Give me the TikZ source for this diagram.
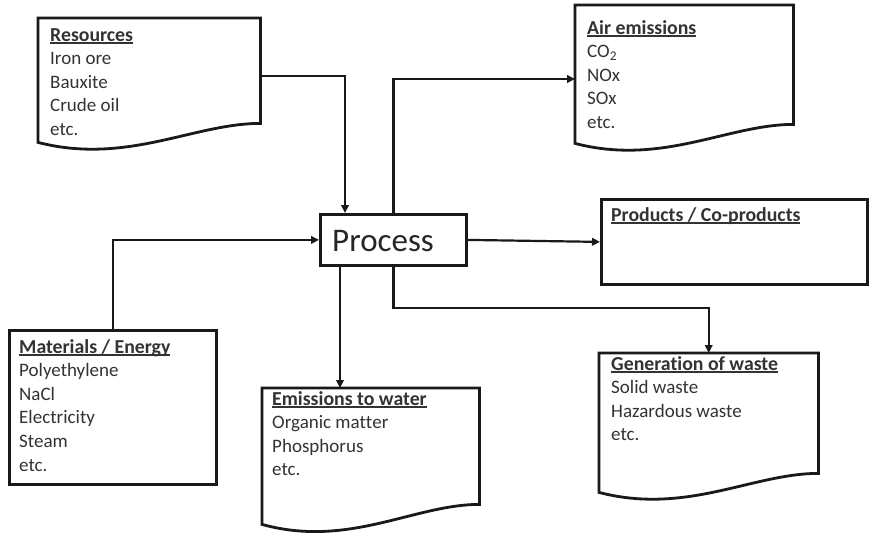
\documentclass[tikz,border=0pt]{standalone}
\usepackage{fontspec}
\setmainfont{Carlito}[Ligatures=NoCommon]
\usetikzlibrary{arrows.meta,calc}

% bold heading with an underline at a fixed depth below the baseline
\newcommand\boxtitle[1]{\setbox0\hbox{\fontsize{19.8}{23.6}\selectfont\bfseries #1}\rlap{\rule[-3pt]{\wd0}{1.6pt}}\box0}
% zero kern that keeps two letters apart
\newcommand\sep{\kern0pt\relax}

\tikzset{
  boxframe/.style={rectangle, inner sep=0pt, anchor=north west},
  boxline/.style={line width=2.8pt, draw=black!90, line join=miter},
  arrowline/.style={line width=2.2pt, draw=black!90, -{Triangle[length=8pt,width=7.5pt]}},
  boxtext/.style={anchor=base west, inner sep=0pt, text=black!80,
                  font=\fontsize{19}{23.6}\selectfont},
}

% document-like outline with a wavy bottom edge: node name, width, extra drop on the left
\newcommand\docframe[3]{%
  \draw[boxline] (#1.south east) -- (#1.north east) -- (#1.north west)
    -- ($(#1.south west)+(0,#3)$)
    .. controls +(0.4*#2,1.2*#3) and +(-0.3*#2,0) .. (#1.south east) -- cycle;}

\begin{document}
\begin{tikzpicture}[x=1pt,y=-1pt]
  \fill[white] (0,0) rectangle (870,536);
  \useasboundingbox (0,0) rectangle (870,536);

  % central process
  \node[boxframe, draw, boxline, minimum width=146pt, minimum height=51pt] (proc) at (319,213) {};
  \node[anchor=base west, inner sep=0pt, text=black!85, font=\fontsize{33}{40}\selectfont] (proctext) at (332,251) {Process};

  % inputs and outputs
  \node[boxframe, minimum width=222pt, minimum height=105pt] (res) at (38,18) {};
  \docframe{res}{222}{19}
  \node[boxtext] (restext) at (50,41) {\begin{tabular}[t]{@{}l@{}}\boxtitle{Resources}\\Iron ore\\Bauxite\\Crude oil\\etc.\end{tabular}};

  \node[boxframe, minimum width=218pt, minimum height=119pt] (air) at (575,5) {};
  \docframe{air}{218}{19}
  \node[boxtext] (airtext) at (587,34) {\begin{tabular}[t]{@{}l@{}}\boxtitle{Air emissions}\\CO\textsubscript{2}\\NOx\\SOx\\etc.\end{tabular}};

  \node[boxframe, draw, boxline, minimum width=266pt, minimum height=85pt] (prod) at (600,198) {};
  \node[boxtext] (prodtext) at (611,221) {\boxtitle{Products / Co-products}};

  \node[boxframe, draw, boxline, minimum width=207pt, minimum height=154pt] (mat) at (8,329) {};
  \node[boxtext] (mattext) at (19,353) {\begin{tabular}[t]{@{}l@{}}\boxtitle{Materials / Energy}\\Polyethylene\\NaCl\\Electricity\\Steam\\etc.\end{tabular}};

  \node[boxframe, minimum width=217pt, minimum height=116pt] (wat) at (262,388) {};
  \docframe{wat}{217}{20}
  \node[boxtext] (wattext) at (272,405) {\begin{tabular}[t]{@{}l@{}}\boxtitle{Emissions to water}\\Organic mat\sep t\sep er\\Phosphorus\\etc.\end{tabular}};

  \node[boxframe, minimum width=219pt, minimum height=120pt] (waste) at (599,353) {};
  \docframe{waste}{219}{19}
  \node[boxtext] (wastetext) at (611,370) {\begin{tabular}[t]{@{}l@{}}\boxtitle{Generat\sep ion of waste}\\Solid waste\\Hazardous waste\\etc.\end{tabular}};

  % connector end points on the box edges
  \coordinate (resout) at ($(res.north east)+(0,58)$);
  \coordinate (procin) at ($(proc.north west)+(26,0)$);
  \coordinate (airin) at ($(air.north west)+(0,74)$);
  \coordinate (watout) at ($(proc.south west)+(21,0)$);
  \coordinate (wastebend) at ($(waste.north)+(0,-45)$);

  % connectors
  \draw[arrowline] (resout) -| (procin);
  \draw[arrowline] (proc.north) |- (airin);
  \draw[arrowline] (mat.north) |- (proc.west);
  \draw[arrowline] (proc.east) -- (prod.west);
  \draw[arrowline] (watout) -- (watout |- wat.north);
  \draw[arrowline] (proc.south) |- (wastebend) -- (waste.north);
\end{tikzpicture}
\end{document}
